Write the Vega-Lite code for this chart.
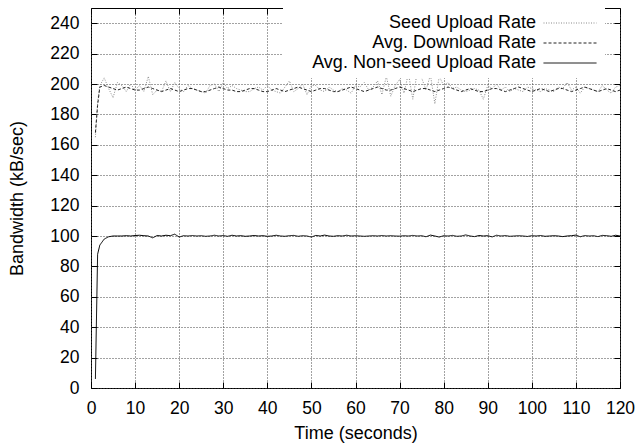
{
  "$schema": "https://vega.github.io/schema/vega-lite/v6.json",
  "width": 529,
  "height": 380,
  "autosize": {"type": "none"},
  "padding": {"left": 91, "top": 8, "right": 19, "bottom": 57},
  "background": "white",
  "config": {
    "font": "Liberation Sans",
    "view": {"stroke": "black", "strokeWidth": 1},
    "axis": {
      "labelFont": "Liberation Sans",
      "labelFontSize": 17.5,
      "labelColor": "black",
      "titleFont": "Liberation Sans",
      "titleFontSize": 18,
      "titleFontWeight": "normal",
      "titleColor": "black",
      "domain": false,
      "tickColor": "black",
      "tickSize": -6,
      "gridColor": "#444",
      "gridDash": [1, 2],
      "gridWidth": 1
    },
    "legend": {
      "labelFont": "Liberation Sans",
      "labelFontSize": 18,
      "labelColor": "black"
    }
  },
  "data": {
    "values": [
      {"t":1,"s":165,"d":168,"u":6},
      {"t":1.5,"s":188,"d":186,"u":88},
      {"t":2,"s":199,"d":198,"u":94},
      {"t":3,"s":204,"d":199,"u":98},
      {"t":4,"s":197,"d":198,"u":99.5},
      {"t":5,"s":191,"d":197,"u":100},
      {"t":6,"s":201,"d":196,"u":100},
      {"t":7,"s":199,"d":197,"u":100},
      {"t":8,"s":195,"d":198,"u":100.2},
      {"t":9,"s":200,"d":197,"u":100},
      {"t":10,"s":196,"d":196,"u":100.3},
      {"t":11,"s":199,"d":196,"u":100.5},
      {"t":12,"s":195,"d":197,"u":100.2},
      {"t":13,"s":205,"d":198,"u":100},
      {"t":14,"s":193,"d":197,"u":98.8},
      {"t":15,"s":196,"d":196,"u":100.3},
      {"t":16,"s":195,"d":195,"u":100},
      {"t":17,"s":202,"d":196,"u":100.5},
      {"t":18,"s":195,"d":197,"u":100.2},
      {"t":19,"s":201,"d":196,"u":101.2},
      {"t":20,"s":197,"d":195,"u":99.3},
      {"t":21,"s":195,"d":196,"u":100.2},
      {"t":22,"s":199,"d":197,"u":100},
      {"t":23,"s":197,"d":197,"u":100.3},
      {"t":24,"s":196,"d":196,"u":100},
      {"t":25,"s":195,"d":195,"u":100.2},
      {"t":26,"s":194,"d":195,"u":99.8},
      {"t":27,"s":199,"d":196,"u":100},
      {"t":28,"s":200,"d":197,"u":100.5},
      {"t":29,"s":195,"d":198,"u":100},
      {"t":30,"s":201,"d":197,"u":100.3},
      {"t":31,"s":197,"d":196,"u":99.8},
      {"t":32,"s":199,"d":196,"u":100.5},
      {"t":33,"s":197,"d":195,"u":100},
      {"t":34,"s":196,"d":195,"u":100.2},
      {"t":35,"s":195,"d":196,"u":99.8},
      {"t":36,"s":195,"d":197,"u":100},
      {"t":37,"s":197,"d":197,"u":100.3},
      {"t":38,"s":198,"d":196,"u":100},
      {"t":39,"s":196,"d":195,"u":100.2},
      {"t":40,"s":199,"d":195,"u":99.8},
      {"t":41,"s":196,"d":196,"u":100},
      {"t":42,"s":195,"d":197,"u":100.5},
      {"t":43,"s":194,"d":196,"u":100},
      {"t":44,"s":198,"d":195,"u":99.8},
      {"t":45,"s":202,"d":196,"u":100.2},
      {"t":46,"s":195,"d":197,"u":100.4},
      {"t":47,"s":197,"d":198,"u":99.8},
      {"t":48,"s":200,"d":197,"u":100.2},
      {"t":49,"s":193,"d":196,"u":100},
      {"t":50,"s":199,"d":195,"u":99.3},
      {"t":51,"s":199,"d":196,"u":100.4},
      {"t":52,"s":196,"d":197,"u":100},
      {"t":53,"s":195,"d":197,"u":100.6},
      {"t":54,"s":198,"d":196,"u":100},
      {"t":55,"s":196,"d":195,"u":99.8},
      {"t":56,"s":195,"d":195,"u":100.2},
      {"t":57,"s":197,"d":196,"u":100},
      {"t":58,"s":196,"d":197,"u":100.5},
      {"t":59,"s":194,"d":198,"u":100},
      {"t":60,"s":199,"d":197,"u":100.2},
      {"t":61,"s":198,"d":196,"u":100},
      {"t":62,"s":201,"d":195,"u":99.8},
      {"t":63,"s":196,"d":196,"u":100},
      {"t":64,"s":198,"d":197,"u":100.2},
      {"t":65,"s":202,"d":198,"u":100},
      {"t":66,"s":193,"d":197,"u":100.3},
      {"t":67,"s":205,"d":196,"u":100},
      {"t":68,"s":192,"d":196,"u":100.2},
      {"t":69,"s":199,"d":197,"u":100},
      {"t":70,"s":203,"d":198,"u":99.9},
      {"t":71,"s":194,"d":197,"u":100.2},
      {"t":72,"s":207,"d":196,"u":100},
      {"t":73,"s":190,"d":195,"u":100.4},
      {"t":74,"s":208,"d":196,"u":100},
      {"t":75,"s":204,"d":197,"u":100.2},
      {"t":76,"s":196,"d":197,"u":99.5},
      {"t":77,"s":206,"d":196,"u":100.6},
      {"t":78,"s":187,"d":195,"u":100},
      {"t":79,"s":205,"d":196,"u":99.3},
      {"t":80,"s":199,"d":197,"u":100.2},
      {"t":81,"s":201,"d":198,"u":100},
      {"t":82,"s":197,"d":197,"u":100.4},
      {"t":83,"s":198,"d":196,"u":99.8},
      {"t":84,"s":196,"d":195,"u":100},
      {"t":85,"s":195,"d":196,"u":100.7},
      {"t":86,"s":196,"d":197,"u":100},
      {"t":87,"s":197,"d":196,"u":99.6},
      {"t":88,"s":196,"d":195,"u":100.3},
      {"t":89,"s":190,"d":195,"u":100},
      {"t":90,"s":199,"d":196,"u":100.2},
      {"t":91,"s":197,"d":197,"u":99.4},
      {"t":92,"s":200,"d":197,"u":100.5},
      {"t":93,"s":196,"d":196,"u":100},
      {"t":94,"s":198,"d":195,"u":100.3},
      {"t":95,"s":195,"d":196,"u":99.8},
      {"t":96,"s":197,"d":197,"u":100},
      {"t":97,"s":196,"d":198,"u":100.2},
      {"t":98,"s":195,"d":197,"u":100},
      {"t":99,"s":198,"d":196,"u":99.7},
      {"t":100,"s":197,"d":195,"u":100.2},
      {"t":101,"s":196,"d":196,"u":100},
      {"t":102,"s":195,"d":197,"u":100.3},
      {"t":103,"s":197,"d":196,"u":99.8},
      {"t":104,"s":196,"d":195,"u":100},
      {"t":105,"s":195,"d":196,"u":100.2},
      {"t":106,"s":198,"d":197,"u":100},
      {"t":107,"s":197,"d":197,"u":99.6},
      {"t":108,"s":201,"d":196,"u":100},
      {"t":109,"s":196,"d":195,"u":100.2},
      {"t":110,"s":198,"d":196,"u":100.6},
      {"t":111,"s":194,"d":197,"u":99.5},
      {"t":112,"s":198,"d":198,"u":100.3},
      {"t":113,"s":197,"d":197,"u":100},
      {"t":114,"s":196,"d":196,"u":100.2},
      {"t":115,"s":195,"d":195,"u":99.6},
      {"t":116,"s":199,"d":196,"u":100.4},
      {"t":117,"s":196,"d":197,"u":100.2},
      {"t":118,"s":194,"d":196,"u":99.8},
      {"t":119,"s":198,"d":195,"u":100.5},
      {"t":120,"s":199,"d":196,"u":100}
    ]
  },
  "transform": [{"fold": ["s", "d", "u"], "as": ["series", "value"]}],
  "layer": [
    {
      "mark": {"type": "line", "strokeWidth": 1, "clip": true},
      "encoding": {
        "x": {
          "field": "t", "type": "quantitative",
          "scale": {"domain": [0, 120], "nice": false},
          "axis": {"orient": "bottom", "values": [0,10,20,30,40,50,60,70,80,90,100,110,120], "title": "Time (seconds)", "grid": true, "labelPadding": 17, "titlePadding": 8, "labelFlush": false}
        },
        "y": {
          "field": "value", "type": "quantitative",
          "scale": {"domain": [0, 250], "nice": false},
          "axis": {"orient": "left", "values": [0,20,40,60,80,100,120,140,160,180,200,220,240], "title": "Bandwidth (kB/sec)", "grid": true, "labelPadding": 18, "titlePadding": 23}
        },
        "color": {
          "field": "series", "type": "nominal",
          "scale": {"domain": ["s", "d", "u"], "range": ["#8a8a8a", "#222222", "#000000"]},
          "legend": {
            "title": null,
            "orient": "none",
            "legendX": 192,
            "legendY": 0,
            "fillColor": "white",
            "padding": 6,
            "symbolType": "M49.1,0H59.7",
            "symbolSize": 100,
            "symbolStrokeWidth": 1,
            "labelAlign": "right",
            "labelOffset": 229,
            "labelLimit": 400,
            "rowPadding": 2,
            "labelExpr": "datum.value == 's' ? 'Seed Upload Rate' : datum.value == 'd' ? 'Avg. Download Rate' : 'Avg. Non-seed Upload Rate'"
          }
        },
        "strokeDash": {
          "field": "series", "type": "nominal",
          "scale": {"domain": ["s", "d", "u"], "range": [[1, 1.5], [3, 2], [1, 0]]},
          "legend": {
            "title": null,
            "orient": "none",
            "legendX": 192,
            "legendY": 0,
            "fillColor": "white",
            "padding": 6,
            "symbolType": "M49.1,0H59.7",
            "symbolSize": 100,
            "symbolStrokeWidth": 1,
            "labelAlign": "right",
            "labelOffset": 229,
            "labelLimit": 400,
            "rowPadding": 2,
            "labelExpr": "datum.value == 's' ? 'Seed Upload Rate' : datum.value == 'd' ? 'Avg. Download Rate' : 'Avg. Non-seed Upload Rate'"
          }
        }
      }
    },
    {
      "mark": {"type": "line", "opacity": 0},
      "encoding": {
        "x": {
          "field": "t", "type": "quantitative",
          "axis": {"orient": "top", "values": [0,10,20,30,40,50,60,70,80,90,100,110,120], "labels": false, "title": null, "grid": false}
        },
        "y": {
          "field": "value", "type": "quantitative",
          "axis": {"orient": "right", "values": [0,20,40,60,80,100,120,140,160,180,200,220,240], "labels": false, "title": null, "grid": false}
        },
        "detail": {"field": "series"}
      }
    }
  ],
  "resolve": {"axis": {"x": "independent", "y": "independent"}}
}
